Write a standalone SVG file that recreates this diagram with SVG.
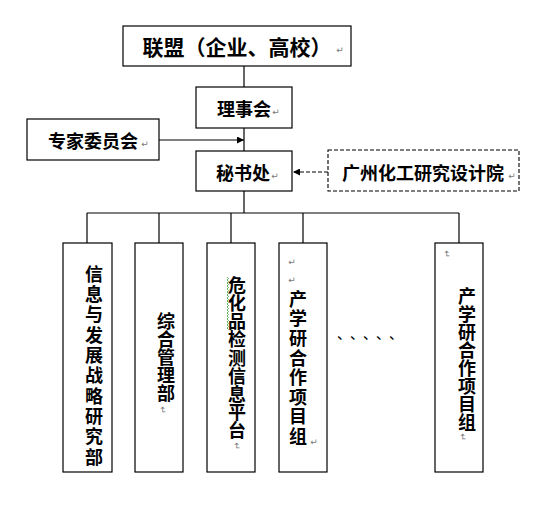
<svg xmlns="http://www.w3.org/2000/svg" width="537" height="506" viewBox="0 0 537 506">
<defs>
<style>
.box{fill:#fff;stroke:#000;stroke-width:1.2}
.dbox{fill:#fff;stroke:#000;stroke-width:1.1;stroke-dasharray:4 2}
.t{font-family:"Noto Sans CJK SC","Noto Sans",sans-serif;font-weight:bold;fill:#000;text-anchor:middle;dominant-baseline:central}
.v{font-family:"Noto Sans CJK SC","Noto Sans",sans-serif;font-weight:bold;fill:#000;font-size:18px;writing-mode:vertical-rl;text-anchor:start}
.pm{font-family:"DejaVu Sans",sans-serif;font-size:9px;fill:#777;text-anchor:middle;dominant-baseline:central}
.ln{stroke:#000;stroke-width:1.2;fill:none}
</style>
<marker id="ah" viewBox="0 0 10 10" refX="10" refY="5" markerWidth="8" markerHeight="7" markerUnits="userSpaceOnUse" orient="auto">
<path d="M0,0 L10,5 L0,10 z" fill="#000"/>
</marker>
</defs>
<rect width="537" height="506" fill="#fff"/>
<g id="connectors">
<line class="ln" x1="244" y1="66" x2="244" y2="87"/>
<line class="ln" x1="244" y1="128" x2="244" y2="151"/>
<line class="ln" x1="244" y1="191" x2="244" y2="213"/>
<line class="ln" x1="159" y1="140" x2="244" y2="140" marker-end="url(#ah)"/>
<line class="ln" x1="328" y1="172" x2="293" y2="172" stroke-dasharray="4 2" marker-end="url(#ah)"/>
<line class="ln" x1="87" y1="213" x2="459" y2="213"/>
<line class="ln" x1="87" y1="213" x2="87" y2="243"/>
<line class="ln" x1="159" y1="213" x2="159" y2="243"/>
<line class="ln" x1="231" y1="213" x2="231" y2="243"/>
<line class="ln" x1="303" y1="213" x2="303" y2="243"/>
<line class="ln" x1="459" y1="213" x2="459" y2="243"/>
</g>
<g id="alliance">
<rect class="box" x="123" y="26" width="228" height="40"/>
<text class="t" x="237" y="46" font-size="21">联盟（企业、高校）</text>
<text class="pm" x="340" y="50">↵</text>
</g>
<g id="council">
<rect class="box" x="196" y="87" width="96" height="41"/>
<text class="t" x="244" y="108" font-size="18">理事会</text>
<text class="pm" x="276" y="112">↵</text>
</g>
<g id="experts">
<rect class="box" x="27" y="119" width="132" height="41"/>
<text class="t" x="93" y="140" font-size="18">专家委员会</text>
<text class="pm" x="145" y="144">↵</text>
</g>
<g id="secretariat">
<rect class="box" x="196" y="151" width="96" height="40"/>
<text class="t" x="243" y="172" font-size="18">秘书处</text>
<text class="pm" x="275" y="176">↵</text>
</g>
<g id="institute">
<rect class="dbox" x="328" y="150" width="191" height="41"/>
<text class="t" x="423" y="172" font-size="18">广州化工研究设计院</text>
<text class="pm" x="512" y="176">↵</text>
</g>
<g id="dept1">
<rect class="box" x="63" y="243" width="49" height="229"/>
<text class="v" x="94" y="265" letter-spacing="2.3">信息与发展战略研究部</text>
<text class="pm" x="91" y="454" transform="rotate(90 91 454)">↵</text>
</g>
<g id="dept2">
<rect class="box" x="135" y="243" width="48" height="229"/>
<text class="v" x="166" y="312" letter-spacing="0">综合管理部</text>
<text class="pm" x="163" y="410" transform="rotate(90 163 410)">↵</text>
</g>
<g id="dept3">
<rect class="box" x="207" y="243" width="48" height="229"/>
<text class="v" x="237" y="276" letter-spacing="0.2">危化品检测信息平台</text>
<path d="M227,277 l1.5,1.5 l-1.5,1.5 l1.5,1.5 l-1.5,1.5 l1.5,1.5 l-1.5,1.5 l1.5,1.5 l-1.5,1.5 l1.5,1.5 l-1.5,1.5 l1.5,1.5 l-1.5,1.5 l1.5,1.5 l-1.5,1.5 l1.5,1.5 l-1.5,1.5 l1.5,1.5 l-1.5,1.5 l1.5,1.5 l-1.5,1.5 l1.5,1.5 l-1.5,1.5 l1.5,1.5 l-1.5,1.5 l1.5,1.5 l-1.5,1.5 l1.5,1.5 l-1.5,1.5 l1.5,1.5 l-1.5,1.5 l1.5,1.5 l-1.5,1.5 l1.5,1.5 l-1.5,1.5 l1.5,1.5" fill="none" stroke="#3a9a3a" stroke-width="0.8"/>
<text class="pm" x="237" y="446" transform="rotate(90 237 446)">↵</text>
</g>
<g id="dept4">
<rect class="box" x="279" y="243" width="48" height="229"/>
<text class="pm" x="292" y="262">↵</text>
<text class="pm" x="292" y="280">↵</text>
<text class="v" x="298" y="290" letter-spacing="1.6">产学研合作项目组</text>
<text class="pm" x="314" y="442">↵</text>
</g>
<g id="ellipsis">
<text x="337 350 363 376 389" y="339" font-family="'Noto Sans CJK SC',sans-serif" font-size="14" fill="#000">、、、、、</text>
</g>
<g id="dept5">
<rect class="box" x="435" y="243" width="48" height="229"/>
<text class="pm" x="447" y="254" transform="rotate(90 447 254)">↵</text>
<text class="v" x="467" y="287" letter-spacing="0">产学研合作项目组</text>
<text class="pm" x="463" y="437" transform="rotate(90 463 437)">↵</text>
</g>
</svg>
